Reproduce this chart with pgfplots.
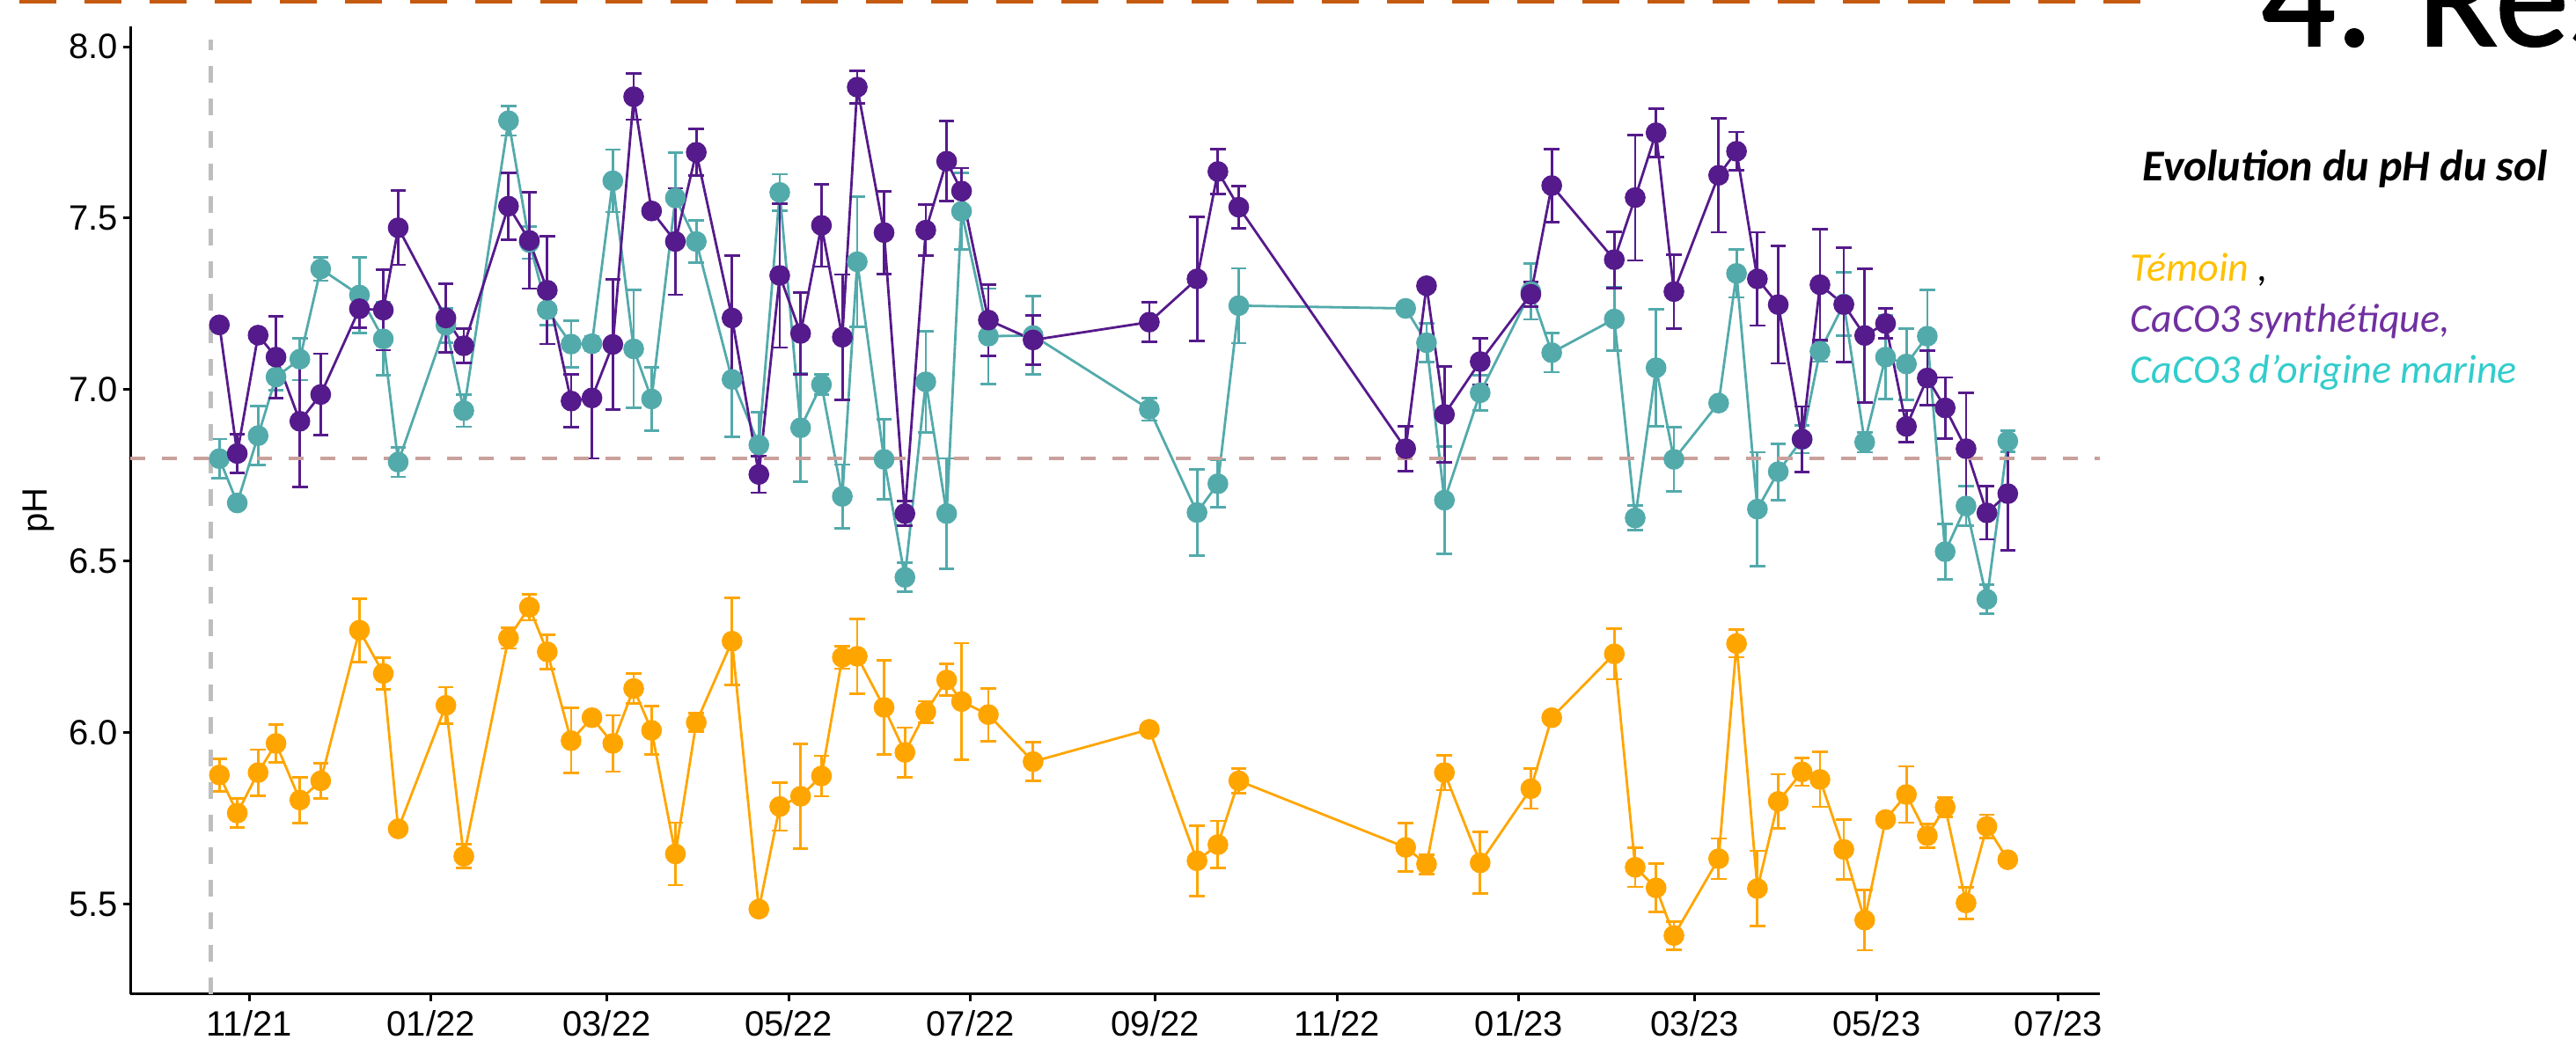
\documentclass[border=0pt]{standalone}
\usepackage{fontspec}
\setmainfont{Liberation Sans}
\newfontfamily\carlito{Carlito}
\newfontfamily\carlitoheavy[FakeBold=1.2]{Carlito}
\usepackage{pgfplots}
\usepackage{pgfplotstable}
\pgfplotsset{compat=1.18}

\definecolor{cpurple}{HTML}{551A8B}
\definecolor{cteal}{HTML}{53AAAB}
\definecolor{corange}{HTML}{FFA500}
\definecolor{cref}{HTML}{C9A09B}
\definecolor{cgray}{HTML}{BEBEBE}
\definecolor{cslide}{HTML}{C55A11}
\definecolor{ltemoin}{HTML}{FFC000}
\definecolor{lsynth}{HTML}{7030A0}
\definecolor{lmarine}{HTML}{33CCCC}

% d = days since 1 Nov 2021, v = pH, e = error
\pgfplotstableread{
d v e
-10 7.189 0
-4 6.814 0.057
3 7.159 0
9 7.095 0.119
17 6.908 0.192
24 6.986 0.119
37 7.236 0.056
45 7.232 0.117
50 7.472 0.108
66 7.209 0.100
72 7.128 0.050
87 7.535 0.098
94 7.435 0.140
100 7.290 0.157
108 6.967 0.077
115 6.976 0.176
122 7.132 0.189
129 7.854 0.067
135 7.521 0
143 7.432 0.155
150 7.692 0.068
162 7.209 0.182
171 6.753 0.053
178 7.333 0.210
185 7.164 0.120
192 7.479 0.120
199 7.153 0.183
204 7.882 0.047
213 7.458 0.120
220 6.639 0.036
227 7.465 0.074
234 7.666 0.117
239 7.579 0.067
248 7.203 0.104
263 7.145 0.072
302 7.197 0.057
318 7.323 0.180
325 7.636 0.066
332 7.532 0.061
388 6.828 0.065
395 7.303 0.015
401 6.928 0.140
413 7.082 0.068
430 7.278 0.036
437 7.595 0.107
458 7.379 0.082
465 7.560 0.183
472 7.749 0.070
478 7.286 0.108
493 7.625 0.166
499 7.695 0.056
506 7.323 0.136
513 7.248 0.171
521 6.856 0.095
527 7.306 0.161
535 7.248 0.167
542 7.158 0.195
549 7.193 0.044
556 6.893 0.046
563 7.034 0.079
569 6.947 0.089
576 6.828 0.163
583 6.641 0.077
590 6.697 0.166
}\synth

\pgfplotstableread{
d v e
-10 6.799 0.057
-4 6.670 0
3 6.866 0.086
9 7.037 0.039
17 7.089 0.061
24 7.352 0.034
37 7.276 0.110
45 7.148 0.106
50 6.789 0.043
66 7.188 0.050
72 6.939 0.047
87 7.784 0.043
94 7.429 0.047
100 7.233 0.044
108 7.133 0.068
115 7.134 0.020
122 7.609 0.091
129 7.119 0.172
135 6.973 0.092
143 7.559 0.131
150 7.432 0.061
162 7.030 0.168
171 6.839 0.095
178 7.575 0.053
185 6.889 0.158
192 7.015 0.030
199 6.689 0.093
204 7.373 0.190
213 6.797 0.117
220 6.453 0.042
227 7.023 0.148
234 6.639 0.161
239 7.520 0.112
248 7.156 0.139
263 7.158 0.114
302 6.943 0.033
318 6.642 0.125
325 6.726 0.069
332 7.245 0.109
388 7.237 0
395 7.137 0.057
401 6.678 0.156
413 6.991 0.051
430 7.286 0.081
437 7.108 0.057
458 7.206 0.092
465 6.626 0.036
472 7.064 0.171
478 6.797 0.093
493 6.961 0.010
499 7.339 0.070
506 6.652 0.166
513 6.761 0.082
521 6.855 0.040
527 7.112 0.030
535 7.250 0.093
542 6.847 0.029
549 7.095 0.122
556 7.075 0.104
563 7.156 0.135
569 6.528 0.080
576 6.661 0.058
583 6.389 0.042
590 6.850 0.030
}\marine

\pgfplotstableread{
d v e
-10 5.877 0.047
-4 5.766 0.043
3 5.884 0.067
9 5.969 0.056
17 5.804 0.067
24 5.860 0.052
37 6.299 0.092
45 6.173 0.046
50 5.720 0
66 6.080 0.053
72 5.640 0.035
87 6.276 0.030
94 6.366 0.038
100 6.236 0.050
108 5.977 0.095
115 6.044 0
122 5.969 0.082
129 6.129 0.043
135 6.007 0.070
143 5.647 0.091
150 6.030 0.027
162 6.267 0.127
171 5.486 0.010
178 5.785 0.070
185 5.815 0.153
192 5.874 0.059
199 6.220 0.033
204 6.223 0.109
213 6.074 0.137
220 5.943 0.072
227 6.061 0.031
234 6.154 0.046
239 6.091 0.170
248 6.053 0.077
263 5.916 0.056
302 6.010 0
318 5.627 0.103
325 5.674 0.069
332 5.860 0.035
388 5.666 0.071
395 5.617 0.028
401 5.884 0.051
413 5.621 0.090
430 5.837 0.058
437 6.044 0
458 6.230 0.074
465 5.608 0.057
472 5.548 0.071
478 5.409 0.041
493 5.633 0.059
499 6.260 0.040
506 5.546 0.110
513 5.800 0.079
521 5.886 0.040
527 5.864 0.080
535 5.660 0.087
542 5.454 0.088
549 5.747 0
556 5.820 0.082
563 5.700 0.034
569 5.783 0.028
576 5.504 0.046
583 5.727 0.034
590 5.630 0
}\temoin

\pgfplotsset{
  serie/.style={
    #1, line width=0.7pt,
    mark=*, mark size=2.6pt, mark options={solid, fill=#1, draw=#1},
    error bars/.cd, y dir=both, y explicit,
    error bar style={line width=0.7pt, #1},
    error mark options={#1, line width=0.7pt, mark size=2.2pt, rotate=90},
  },
}

\begin{document}
\begin{tikzpicture}
\useasboundingbox (0pt,0pt) rectangle (731.75pt,297.5pt);

% slide decoration
\draw[cslide, line width=1.1pt, dash pattern=on 10.5pt off 8pt] (5.5pt,297pt) -- (608pt,297pt);
\node[anchor=base west, inner sep=0pt, font=\carlitoheavy\fontsize{42}{42}\selectfont] at (642pt,284.5pt) {4. Résultats};
\node[anchor=base west, inner sep=0pt, font=\carlito\bfseries\itshape\fontsize{12.5}{14}\selectfont] at (608.5pt,246pt) {Evolution du pH du sol};
\node[anchor=base west, inner sep=0pt, font=\carlito\itshape\fontsize{11.5}{13}\selectfont] at (605pt,217.5pt) {\textcolor{ltemoin}{Témoin} ,};
\node[anchor=base west, inner sep=0pt, font=\carlito\itshape\fontsize{11.5}{13}\selectfont, text=lsynth] at (605pt,203pt) {CaCO3 synthétique,};
\node[anchor=base west, inner sep=0pt, font=\carlito\itshape\fontsize{11.5}{13}\selectfont, text=lmarine] at (605pt,188.5pt) {CaCO3 d’origine marine};

\begin{axis}[
  at={(37pt,15pt)}, anchor=south west,
  scale only axis, width=559.5pt, height=275pt,
  xmin=-39.9, xmax=620.9, ymin=5.238, ymax=8.059,
  axis x line*=bottom, axis y line*=left,
  axis line style={line width=0.75pt, black},
  tick align=outside, major tick length=2pt,
  tick style={line width=0.75pt, black},
  xtick={0,61,120,181,242,304,365,426,485,546,607},
  xticklabels={11/21,01/22,03/22,05/22,07/22,09/22,11/22,01/23,03/23,05/23,07/23},
  ytick={5.5,6,6.5,7,7.5,8},
  yticklabel={\pgfmathprintnumber[fixed,fixed zerofill,precision=1]{\tick}},
  ticklabel style={font=\fontsize{10}{12}\selectfont},
  yticklabel style={xshift=2pt},
  xticklabel style={yshift=1pt},
  /pgf/number format/assume math mode=true,
  ylabel={pH},
  ylabel style={at={(axis description cs:-0.0465,0.5)}, anchor=center,
    font=\fontsize{10}{12}\selectfont},
  clip=false,
]
\addplot[serie=corange] table[x=d, y=v, y error=e] {\temoin};
\addplot[serie=cteal] table[x=d, y=v, y error=e] {\marine};
\addplot[serie=cpurple] table[x=d, y=v, y error=e] {\synth};

\addplot[cref, line width=1.1pt, dash pattern=on 4.25pt off 4.75pt] coordinates {(-39.9,6.8) (620.9,6.8)};
\addplot[cgray, line width=1.25pt, dash pattern=on 4.75pt off 4.5pt] coordinates {(-13,5.238) (-13,8.02)};
\end{axis}
\end{tikzpicture}
\end{document}
